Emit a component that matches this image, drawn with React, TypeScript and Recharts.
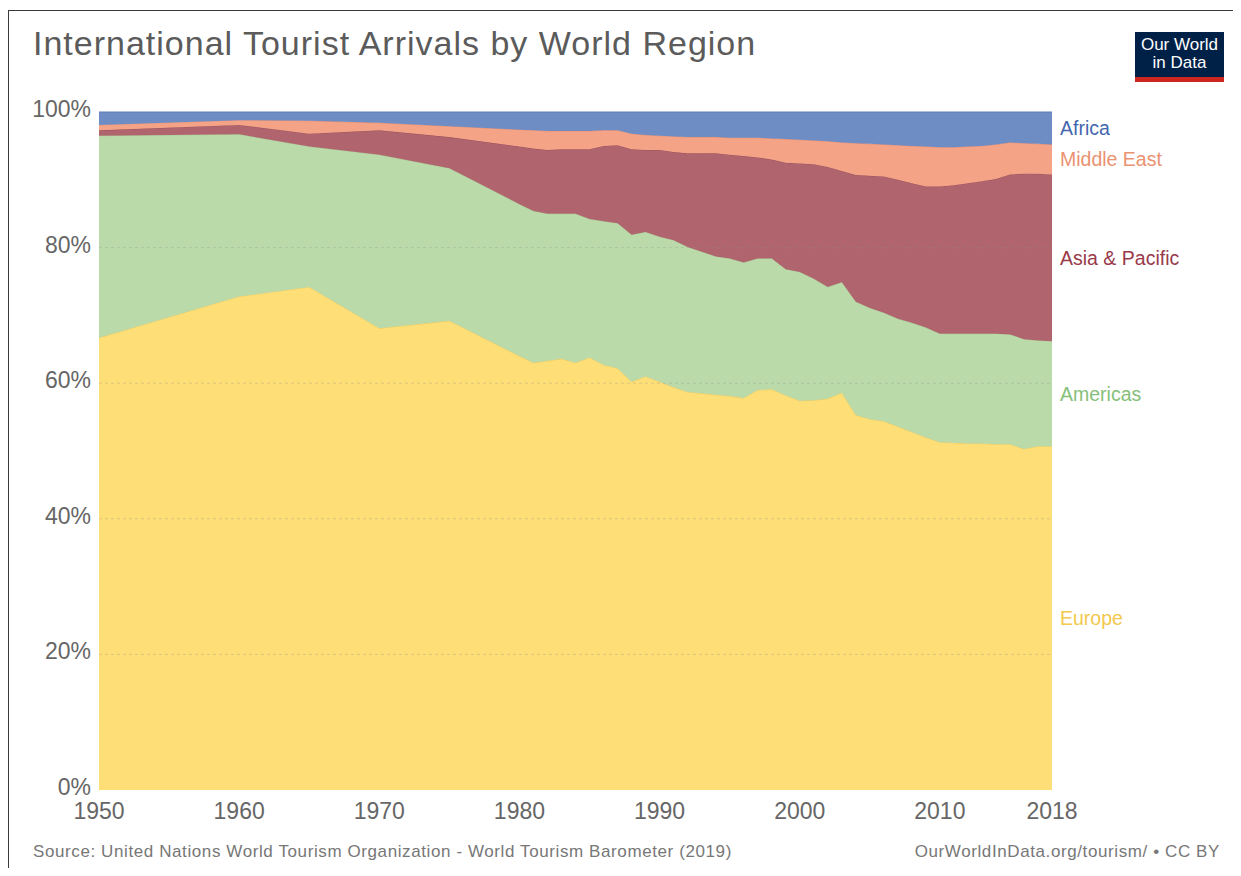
import React from "react";
import { AreaChart, Area, XAxis, YAxis, ReferenceLine, ReferenceDot } from "recharts";

// years with data (the chart has 5-year steps before 1980, then every year)
const years = [
  1950, 1960, 1965, 1970, 1975, 1980, 1981, 1982, 1983, 1984, 1985, 1986, 1987, 1988, 1989,
  1990, 1991, 1992, 1993, 1994, 1995, 1996, 1997, 1998, 1999, 2000, 2001, 2002, 2003, 2004,
  2005, 2006, 2007, 2008, 2009, 2010, 2011, 2012, 2013, 2014, 2015, 2016, 2017, 2018,
];

// share of arrivals, %
const europe = [
  66.7, 72.8, 74.2, 68.1, 69.2, 64.0, 63.0, 63.3, 63.6, 63.0, 63.8, 62.7, 62.2, 60.2, 61.0,
  60.2, 59.4, 58.7, 58.5, 58.3, 58.1, 57.8, 59.0, 59.1, 58.2, 57.4, 57.5, 57.7, 58.6, 55.3,
  54.7, 54.4, 53.6, 52.8, 52.0, 51.3, 51.2, 51.1, 51.1, 51.0, 51.0, 50.3, 50.7, 50.7,
];
const americas = [
  29.8, 23.9, 20.7, 25.6, 22.5, 22.4, 22.4, 21.7, 21.4, 22.0, 20.4, 21.2, 21.4, 21.7, 21.3,
  21.4, 21.7, 21.4, 20.9, 20.4, 20.3, 20.0, 19.4, 19.3, 18.6, 19.0, 17.9, 16.5, 16.3, 16.7,
  16.4, 16.0, 15.9, 16.1, 16.2, 16.0, 16.1, 16.2, 16.2, 16.3, 16.2, 16.2, 15.6, 15.5,
];
const asiaPacific = [
  0.8, 1.4, 1.9, 3.6, 4.6, 8.5, 9.2, 9.4, 9.5, 9.5, 10.3, 11.1, 11.5, 12.6, 12.1,
  12.8, 13.0, 13.8, 14.5, 15.2, 15.3, 15.7, 14.9, 14.6, 15.7, 16.0, 16.9, 17.7, 16.4, 18.7,
  19.5, 20.1, 20.5, 20.6, 20.8, 21.7, 21.9, 22.2, 22.5, 22.8, 23.6, 24.4, 24.6, 24.6,
];
const middleEast = [
  0.8, 0.7, 1.9, 1.1, 1.6, 2.5, 2.7, 2.8, 2.7, 2.7, 2.7, 2.3, 2.2, 2.3, 2.2,
  2.1, 2.3, 2.4, 2.4, 2.4, 2.5, 2.7, 2.9, 3.1, 3.5, 3.5, 3.5, 3.8, 4.2, 4.7,
  4.7, 4.7, 5.1, 5.5, 5.9, 5.8, 5.6, 5.4, 5.2, 5.1, 4.7, 4.5, 4.4, 4.4,
];
const africa = [
  1.9, 1.2, 1.3, 1.6, 2.1, 2.6, 2.7, 2.8, 2.8, 2.8, 2.8, 2.7, 2.7, 3.2, 3.4,
  3.5, 3.6, 3.7, 3.7, 3.7, 3.8, 3.8, 3.8, 3.9, 4.0, 4.1, 4.2, 4.3, 4.5, 4.6,
  4.7, 4.8, 4.9, 5.0, 5.1, 5.2, 5.2, 5.1, 5.0, 4.8, 4.5, 4.6, 4.7, 4.8,
];

const xTicks = [1950, 1960, 1970, 1980, 1990, 2000, 2010, 2018];
const yTicks = [0, 0.2, 0.4, 0.6, 0.8, 1];

// bottom to top
const series = [
  { key: "Europe", values: europe, fill: "#FEDE77", stroke: "#EFCB5E", text: "#F2C84E" },
  { key: "Americas", values: americas, fill: "#BBDAAA", stroke: "#A9CC95", text: "#86C07A" },
  { key: "Asia & Pacific", values: asiaPacific, fill: "#B0656E", stroke: "#9B4E58", text: "#993A4A" },
  { key: "Middle East", values: middleEast, fill: "#F4A386", stroke: "#E98F70", text: "#EA9272" },
  { key: "Africa", values: africa, fill: "#6E8DC5", stroke: "#5E7DB8", text: "#4567AE" },
];

const data = years.map((year, i) => {
  const row: Record<string, number> = { year };
  series.forEach((s) => (row[s.key] = s.values[i]));
  return row;
});

// label positions: middle of each band at the last year
const last = years.length - 1;
const lastTotal = series.reduce((acc, s) => acc + s.values[last], 0);
let running = 0;
const labelMids = series.map((s) => {
  const mid = (running + s.values[last] / 2) / lastTotal;
  running += s.values[last];
  return mid;
});

const font = '"Liberation Sans", Arial, Helvetica, sans-serif';

const YTick = (props: any) => {
  const { x, y, payload } = props;
  return (
    <text x={x} y={y - 3} textAnchor="end" dominantBaseline="central" fill="#666" fontSize={23} fontFamily={font}>
      {Math.round(payload.value * 100)}%
    </text>
  );
};

const XTick = (props: any) => {
  const { x, y, payload } = props;
  return (
    <text x={x} y={y} dy="0.71em" textAnchor="middle" fill="#666" fontSize={23} fontFamily={font}>
      {payload.value}
    </text>
  );
};

export default function App() {
  return (
    <div style={{ position: "relative", width: 1233, height: 860, fontFamily: font }}>
      <div
        style={{
          position: "absolute",
          left: 0,
          top: 2,
          width: 1250,
          height: 900,
          border: "1px solid #3a3a3a",
          boxSizing: "border-box",
        }}
      />
      <div
        style={{
          position: "absolute",
          left: 25,
          top: 18,
          fontSize: 34,
          lineHeight: "34px",
          letterSpacing: 1,
          color: "#5b5b5b",
          whiteSpace: "nowrap",
        }}
      >
        International Tourist Arrivals by World Region
      </div>

      <div
        style={{
          position: "absolute",
          left: 1127,
          top: 24,
          width: 89,
          height: 50,
          background: "#002147",
          borderBottom: "5px solid #CE261E",
          boxSizing: "border-box",
          color: "#fff",
          fontSize: 17,
          lineHeight: "18px",
          textAlign: "center",
          paddingTop: 4,
        }}
      >
        Our World
        <br />
        in Data
      </div>

      <div style={{ position: "absolute", left: 0, top: 0 }}>
        <AreaChart
          width={1230}
          height={830}
          data={data}
          stackOffset="expand"
          margin={{ top: 104, right: 186, bottom: 8, left: 0 }}
        >
          <XAxis
            dataKey="year"
            type="number"
            domain={[1950, 2018]}
            ticks={xTicks}
            height={40}
            tickSize={0}
            tickMargin={13}
            axisLine={false}
            tick={<XTick />}
            interval={0}
          />
          <YAxis
            type="number"
            domain={[0, 1]}
            ticks={yTicks}
            width={91}
            tickSize={0}
            tickMargin={8}
            axisLine={false}
            tick={<YTick />}
            interval={0}
          />
          {series.map((s) => (
            <Area
              key={s.key}
              type="linear"
              dataKey={s.key}
              stackId="1"
              fill={s.fill}
              fillOpacity={1}
              stroke={s.stroke}
              strokeWidth={1}
              dot={false}
              activeDot={false}
              isAnimationActive={false}
            />
          ))}
          {[0.2, 0.4, 0.6, 0.8].map((v) => (
            <ReferenceLine key={v} y={v} stroke="#8a8a8a" strokeOpacity={0.3} strokeDasharray="3 3" />
          ))}
          {series.map((s, i) => (
            <ReferenceDot
              key={"lbl" + s.key}
              x={2018}
              y={labelMids[i]}
              r={0}
              fill="none"
              stroke="none"
              ifOverflow="visible"
              label={{ value: s.key, position: "right", offset: 8, fill: s.text, fontSize: 19.5, fontFamily: font }}
            />
          ))}
        </AreaChart>
      </div>

      <div
        style={{
          position: "absolute",
          left: 25,
          top: 835,
          fontSize: 17,
          lineHeight: "17px",
          letterSpacing: 0.6,
          color: "#777",
          whiteSpace: "nowrap",
        }}
      >
        Source: United Nations World Tourism Organization - World Tourism Barometer (2019)
      </div>
      <div
        style={{
          position: "absolute",
          right: 21,
          top: 835,
          fontSize: 17,
          lineHeight: "17px",
          letterSpacing: 0.6,
          color: "#777",
          whiteSpace: "nowrap",
        }}
      >
        OurWorldInData.org/tourism/ • CC BY
      </div>
    </div>
  );
}
